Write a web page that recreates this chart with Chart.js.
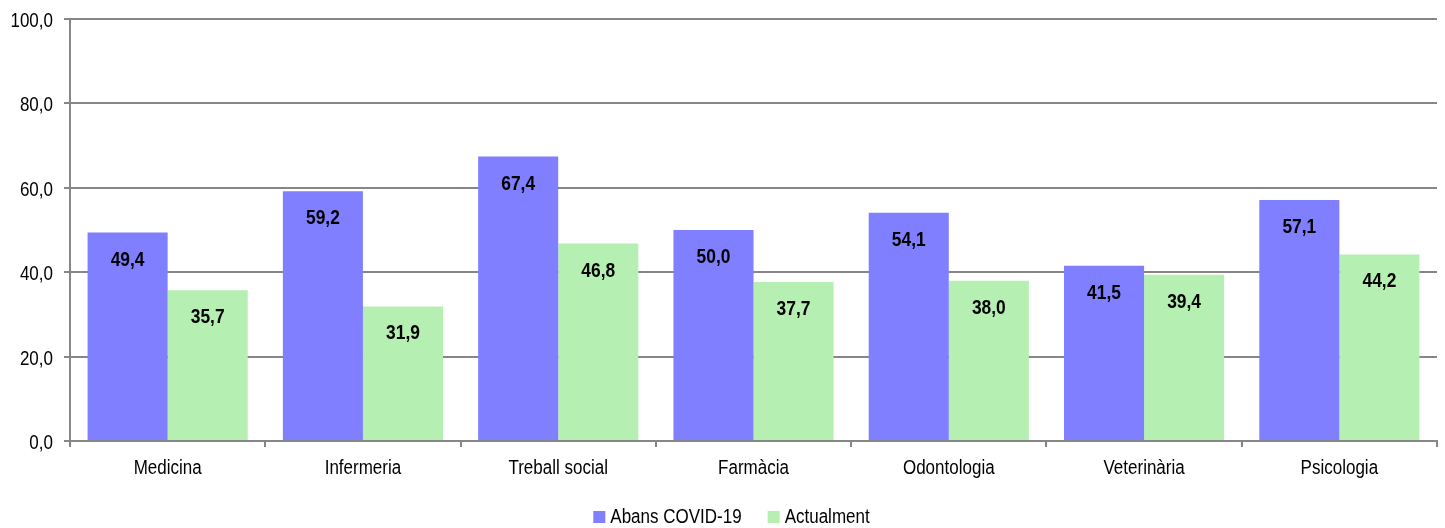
<!DOCTYPE html>
<html><head><meta charset="utf-8">
<script src="https://cdn.jsdelivr.net/npm/chart.js@4/dist/chart.umd.min.js"></script>
<style>html,body{margin:0;padding:0;background:#fff}#wrap{width:1445px;height:528px;position:relative}</style>
</head><body><div id="wrap"><canvas id="c" width="1445" height="528"></canvas></div>
<script>
const categories = ['Medicina','Infermeria','Treball social','Farmàcia','Odontologia','Veterinària','Psicologia'];
const abans = [49.4, 59.2, 67.4, 50.0, 54.1, 41.5, 57.1];
const actualment = [35.7, 31.9, 46.8, 37.7, 38.0, 39.4, 44.2];
const seriesNames = ['Abans COVID-19','Actualment'];
const seriesColors = ['#7F7FFF','#B6EFB2'];
const yTicks = [0,20,40,60,80,100];

const FAM = '"Liberation Sans", Arial, sans-serif';
const SX = 0.85;
const fmt = v => v.toFixed(1).replace('.', ',');

function condText(ctx, text, x, y, align, font, sx){
  ctx.save();
  ctx.font = font;
  ctx.translate(x, y);
  ctx.scale(sx, 1);
  ctx.textAlign = align;
  ctx.textBaseline = 'alphabetic';
  ctx.fillStyle = '#000';
  ctx.fillText(text, 0, 0);
  ctx.restore();
}

const textPlugin = {
  id:'texts',
  afterDraw(chart){
    const ctx = chart.ctx;
    const xs = chart.scales.x, ys = chart.scales.y;
    yTicks.forEach(v => {
      condText(ctx, fmt(v), 53, ys.getPixelForValue(v) + 8, 'right', '20px ' + FAM, SX);
    });
    categories.forEach((c, i) => {
      condText(ctx, c, xs.getPixelForValue(i), 474, 'center', '20px ' + FAM, SX);
    });
    chart.data.datasets.forEach((ds, i) => {
      chart.getDatasetMeta(i).data.forEach((bar, j) => {
        condText(ctx, fmt(ds.data[j]), bar.x, bar.y + 33, 'center', 'bold 20px ' + FAM, 0.87);
      });
    });
    ctx.save();
    ctx.font = '20px ' + FAM;
    const w = seriesNames.map(n => ctx.measureText(n).width * SX);
    ctx.restore();
    const box = 12, gap = 5, between = 26;
    const total = w.reduce((a,b)=>a+b,0) + seriesNames.length*(box+gap) + between*(seriesNames.length-1);
    let x = (chart.width - total) / 2 + 9;
    seriesNames.forEach((n, i) => {
      ctx.fillStyle = seriesColors[i];
      ctx.fillRect(x, 511, box, box);
      x += box + gap;
      condText(ctx, n, x, 523, 'left', '20px ' + FAM, SX);
      x += w[i] + between;
    });
  }
};

new Chart(document.getElementById('c'), {
  type:'bar',
  data:{labels:categories, datasets:[
    {label:seriesNames[0], data:abans, backgroundColor:seriesColors[0], borderWidth:0},
    {label:seriesNames[1], data:actualment, backgroundColor:seriesColors[1], borderWidth:0}
  ]},
  options:{
    responsive:false, animation:false,
    layout:{padding:{top:19,right:8,left:0,bottom:0}},
    datasets:{bar:{categoryPercentage:0.82, barPercentage:1.0}},
    plugins:{ legend:{display:false}, tooltip:{enabled:false} },
    scales:{
      x:{
        afterFit: s => { s.height = 87; },
        grid:{offset:true, drawOnChartArea:false, drawTicks:true, tickLength:6, color:'#868686', lineWidth:2},
        border:{color:'#868686', width:2},
        ticks:{display:false}
      },
      y:{
        min:0, max:100,
        afterBuildTicks: s => { s.ticks = yTicks.map(v => ({value:v})); },
        afterFit: s => { s.width = 70; },
        grid:{color:'#868686', lineWidth:2, drawTicks:true, tickLength:6},
        border:{color:'#868686', width:2},
        ticks:{display:false}
      }
    }
  },
  plugins:[textPlugin]
});
</script></body></html>
